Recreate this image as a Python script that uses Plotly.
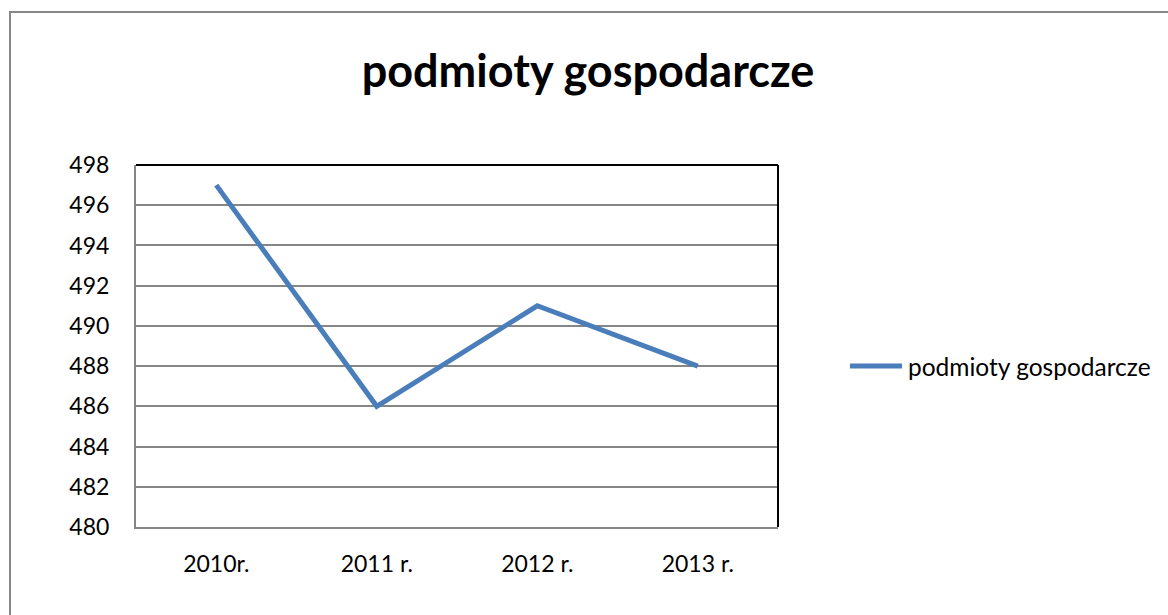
import plotly.graph_objects as go

categories = ["2010r.", "2011 r.", "2012 r.", "2013 r."]
values = [497, 486, 491, 488]
series_name = "podmioty gospodarcze"
title_text = "podmioty gospodarcze"

W, H = 1168, 615
L, R, T, B = 136, 778, 165, 527

def px(x):
    return (x - L) / (R - L)

def py(y):
    return (B - y) / (B - T)

LINE_COLOR = "#4A7EBB"
FONT = "Lato"

fig = go.Figure()
fig.add_trace(go.Scatter(
    x=list(range(len(categories))), y=values, mode="lines", name=series_name,
    line=dict(color=LINE_COLOR, width=5), showlegend=False,
))

fig.update_layout(
    width=W, height=H,
    margin=dict(l=L, r=W - R, t=T, b=H - B, pad=0),
    paper_bgcolor="white", plot_bgcolor="white",
    font=dict(family=FONT, size=23, color="black"),
    title=dict(text="<b>" + title_text + "</b>", x=588 / W, xanchor="center",
               y=1 - 71 / H, yanchor="middle", font=dict(family=FONT, size=45, color="black")),
    xaxis=dict(
        tickmode="array", tickvals=list(range(len(categories))), ticktext=categories,
        range=[-0.5, len(categories) - 0.5], showgrid=False, zeroline=False,
        showline=True, linecolor="#868686", linewidth=2, ticks="",
        ticklabelstandoff=15, tickfont=dict(family=FONT, size=23),
    ),
    yaxis=dict(
        range=[480, 498], dtick=2, tick0=480, showgrid=True, gridcolor="#868686", gridwidth=2,
        zeroline=False, showline=True, linecolor="#868686", linewidth=2, ticks="",
        ticklabelstandoff=20, tickfont=dict(family=FONT, size=23),
    ),
    shapes=[
        dict(type="line", xref="paper", yref="paper", x0=0, x1=1, y0=1, y1=1,
             line=dict(color="black", width=2)),
        dict(type="line", xref="paper", yref="paper", x0=1, x1=1, y0=0, y1=1,
             line=dict(color="black", width=2)),
        dict(type="rect", xref="paper", yref="paper", x0=px(10), x1=px(1300), y0=py(700), y1=py(12),
             line=dict(color="#868686", width=2), layer="below"),
        # legend swatch
        dict(type="line", xref="paper", yref="paper", x0=px(850), x1=px(902), y0=py(366), y1=py(366),
             line=dict(color=LINE_COLOR, width=5)),
    ],
    annotations=[
        dict(text=series_name, xref="paper", yref="paper", x=px(906), y=py(366),
             xanchor="left", yanchor="middle", showarrow=False,
             font=dict(family=FONT, size=24.5, color="black")),
    ],
)

fig.write_html("out.html", config={"displayModeBar": False},
               post_script="document.body.style.margin='0';document.body.style.overflow='hidden';")
